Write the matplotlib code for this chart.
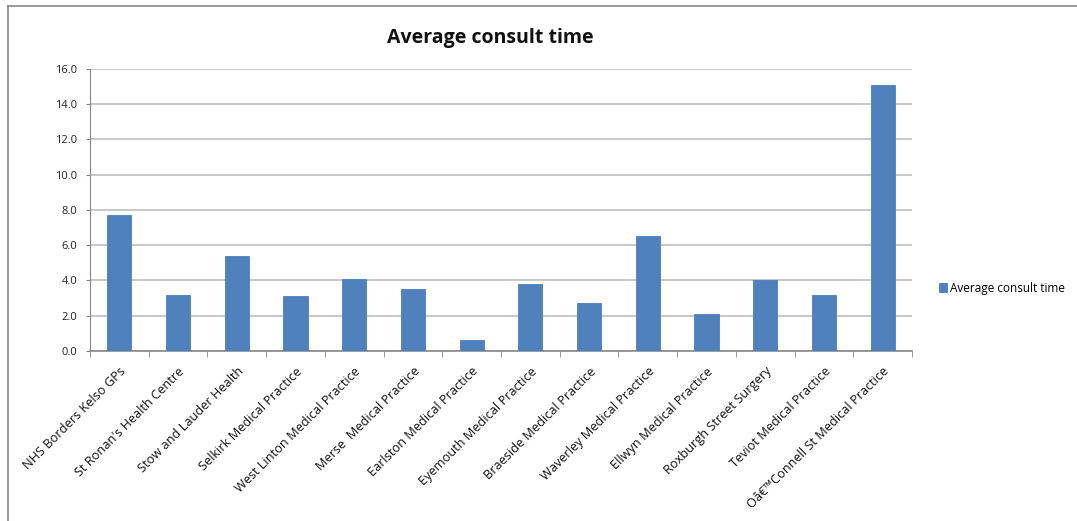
import matplotlib
matplotlib.use("Agg")
import matplotlib.pyplot as plt
from matplotlib.lines import Line2D
import numpy as np

practices = [
    "NHS Borders Kelso GPs",
    "St Ronan's Health Centre",
    "Stow and Lauder Health",
    "Selkirk Medical Practice",
    "West Linton Medical Practice",
    "Merse  Medical Practice",
    "Earlston Medical Practice",
    "Eyemouth Medical Practice",
    "Braeside Medical Practice",
    "Waverley Medical Practice",
    "Ellwyn Medical Practice",
    "Roxburgh Street Surgery",
    "Teviot Medical Practice",
    "Oâ€™Connell St Medical Practice",
]
consult_time = [7.7, 3.2, 5.4, 3.1, 4.1, 3.5, 0.6, 3.8, 2.7, 6.5, 2.1, 4.0, 3.2, 15.1]
y_ticks = [0, 2, 4, 6, 8, 10, 12, 14, 16]

plt.rcParams['font.family'] = ['Open Sans', 'DejaVu Sans']

fig = plt.figure(figsize=(10.77, 5.21), dpi=100)
ax = fig.add_axes([0.0836, 0.3263, 0.7632, 0.5413])

x = np.arange(len(practices))
ax.bar(x, consult_time, width=0.41, color="#4F81BD", edgecolor="#4A7EBB",
       linewidth=0.6, zorder=3, label="Average consult time")

ax.set_xlim(-0.5, len(practices) - 0.5)
ax.set_ylim(0, 16)
ax.set_yticks(y_ticks)
ax.set_yticklabels([f"{v:.1f}" for v in y_ticks], fontsize=8, color="#222222")
ax.yaxis.grid(True, color="#BFBFBF", linewidth=1.2, zorder=0)
ax.tick_params(axis="y", length=3, color="#888888", pad=6)

ax.set_xticks(x)
ax.set_xticklabels(practices, rotation=45, ha="right", rotation_mode="anchor",
                   fontsize=9.2, color="#111111")
ax.tick_params(axis="x", length=0, pad=10)
# category boundary tick marks
ax.set_xticks(np.arange(-0.5, len(practices)), minor=True)
ax.tick_params(axis="x", which="minor", length=4, color="#888888")

for side in ("top", "right"):
    ax.spines[side].set_visible(False)
ax.spines["left"].set_color("#888888")
ax.spines["bottom"].set_color("#888888")
ax.spines["bottom"].set_linewidth(1.2)

fig.text(0.455, 0.927, "Average consult time", ha="center", va="center",
         fontsize=14, fontweight="bold", color="#111111")

fig.legend(loc="center left", bbox_to_anchor=(0.862, 0.447), frameon=False,
           fontsize=8.5, handlelength=0.7, handleheight=0.7, handletextpad=0.2)

# frame edges along the top and left of the chart area
fig.add_artist(Line2D([0.0075, 1.0], [0.988, 0.988], transform=fig.transFigure,
                      color="#888888", linewidth=1.2))
fig.add_artist(Line2D([0.0075, 0.0075], [0.0, 0.988], transform=fig.transFigure,
                      color="#888888", linewidth=1.2))

fig.savefig("out.png", dpi=100)
